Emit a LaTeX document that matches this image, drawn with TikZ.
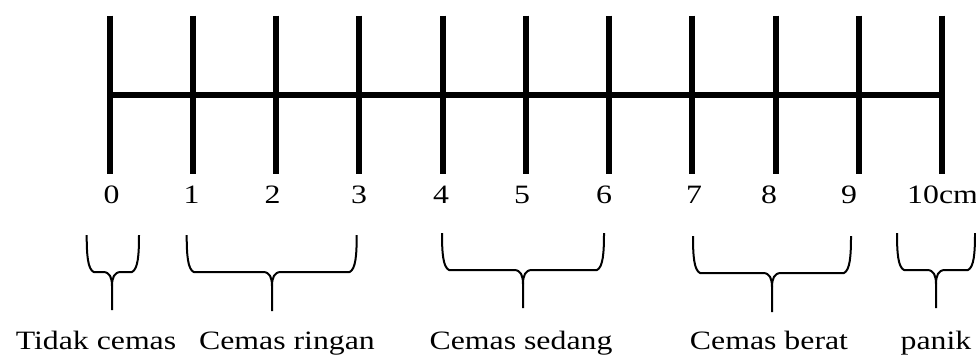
\documentclass[tikz,border=0pt]{standalone}
\usepackage{fontspec}
\setmainfont[FakeStretch=1.2]{Liberation Serif}
\begin{document}
\begin{tikzpicture}[x=1pt,y=-1pt,
  tick/.style={line width=6pt},
  axis/.style={line width=6pt},
  brc/.style={line width=2pt,line join=round},
  lbl/.style={inner sep=0pt,anchor=base,font=\fontsize{26.5}{30}\selectfont},
]
\useasboundingbox (0,0) rectangle (976,356);
% axis
\foreach \i/\x in {0/110,1/193,2/276,3/359,4/443,5/526,6/609,7/692,8/776,9/859,10/942}{
  \coordinate (t\i) at (\x,95);
  \draw[tick] (\x,15.7) -- (\x,173.7);
}
\draw[axis] (t0) -- (t10);
% numbers
\foreach \i/\x in {0/111.5,1/191.5,2/272.5,3/359,4/441,5/522,6/604,7/694,8/769,9/849}{
  \node[lbl] (n\i) at (\x,203) {\i};
}
\node[lbl,anchor=base west] (n10) at (907,203) {10cm};
% braces
\newcommand\mybrace[6]{% x1, x2, xc, ytop, yh, ytip
  \draw[brc] (#1,#4) .. controls (#1,#4+20) and (#1+1,#5-3) .. (#1+7,#5)
    -- (#3-9,#5) .. controls (#3-2,#5) and (#3,#5+6) .. (#3,#5+14) -- (#3,#6);
  \draw[brc] (#2,#4) .. controls (#2,#4+20) and (#2-1,#5-3) .. (#2-7,#5)
    -- (#3+9,#5) .. controls (#3+2,#5) and (#3,#5+6) .. (#3,#5+14);
}
\mybrace{86.7}{139}{112}{235}{272}{310}
\mybrace{186.7}{356.7}{272}{235}{272}{311}
\mybrace{442}{604}{523}{233}{270}{308}
\mybrace{693}{851}{772}{236}{273}{312}
\mybrace{897}{975}{936}{233}{270}{308}
% labels
\node[lbl] (l1) at (96,349) {Tidak cemas};
\node[lbl] (l2) at (287,349) {Cemas ringan};
\node[lbl] (l3) at (521,349) {Cemas sedang};
\node[lbl] (l4) at (769,349) {Cemas berat};
\node[lbl] (l5) at (936,349) {panik};
\end{tikzpicture}
\end{document}
